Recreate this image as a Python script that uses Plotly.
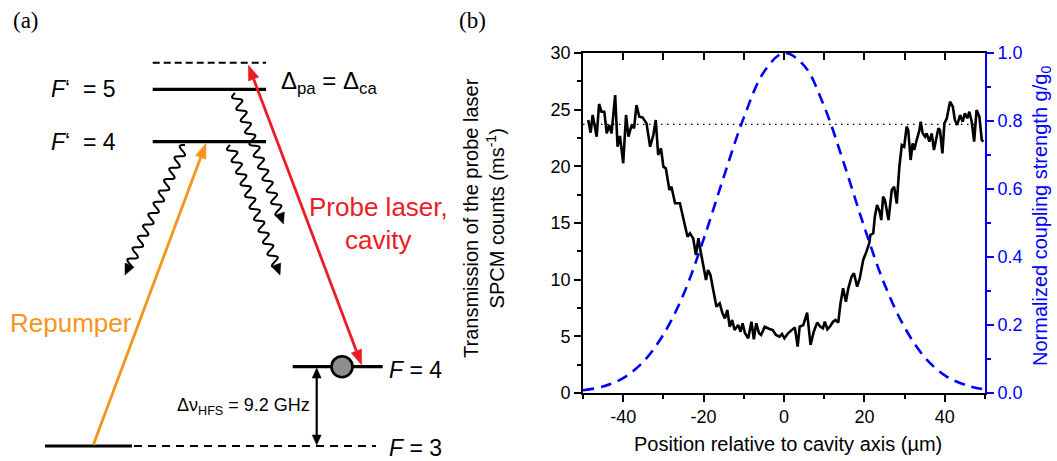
import numpy as np
import plotly.graph_objects as go

# ---------------- Panel (b) data ----------------
pos_um = [-48.7, -48.1, -47.6, -46.6, -46.0, -45.4, -44.7, -44.1, -43.5, -42.9, -42.0, -41.4, -40.8, -40.0,
          -39.3, -38.7, -37.9, -37.3, -36.7, -36.0, -35.2, -34.2, -33.3, -32.5, -31.9, -31.3, -30.6, -30.0,
          -29.4, -28.5, -28.0, -27.1, -25.9, -25.1, -24.0, -23.4, -22.8, -22.6, -21.9, -21.3, -20.8, -20.1,
          -19.4, -18.9, -18.3, -17.6, -16.8, -16.0, -15.3, -14.7, -14.1, -13.5, -12.9, -12.3, -11.4, -10.8,
          -10.3, -9.7, -8.9, -8.1, -7.5, -6.9, -6.2, -5.7, -4.8, -3.6, -2.8, -2.0, -1.1, -0.5, 0.1, 1.0,
          1.85, 2.7, 3.4, 3.9, 4.8, 5.75, 6.6, 7.4, 8.25, 9.05, 9.7, 10.15, 10.8, 11.4, 12.2, 12.8, 13.5,
          14.05, 14.7, 15.4, 16.0, 16.8, 17.4, 18.2, 18.85, 19.7, 20.5, 21.2, 21.5, 22.2, 22.6, 23.15, 23.8,
          24.2, 24.65, 25.1, 26.0, 26.8, 27.4, 28.05, 28.7, 29.3, 29.9, 30.5, 30.9, 31.5, 32.0, 32.4, 33.0,
          33.7, 34.0, 34.5, 35.1, 35.5, 36.15, 36.75, 37.3, 37.8, 38.4, 38.8, 39.4, 39.9, 40.5, 41.3, 42.0,
          42.5, 43.1, 43.8, 44.45, 45.0, 45.6, 46.1, 46.7, 47.3, 47.9, 48.6, 49.2, 49.6]
spcm_counts = [24.09, 22.97, 24.53, 22.62, 25.50, 24.82, 24.82, 22.91, 23.65, 22.91, 26.29, 21.73, 22.68, 20.27,
               24.53, 22.62, 23.65, 23.36, 25.41, 24.38, 24.32, 23.79, 21.73, 22.76, 24.09, 21.00, 21.59, 19.97,
               19.82, 17.91, 18.20, 16.74, 16.74, 15.56, 13.79, 14.09, 13.79, 13.65, 12.18, 13.65, 12.62, 11.15,
               9.97, 10.85, 10.41, 9.09, 7.62, 7.91, 7.03, 6.59, 7.32, 5.85, 6.44, 5.56, 6.00, 5.41,
               6.15, 5.27, 4.82, 6.29, 4.74, 6.15, 5.27, 5.12, 5.85, 5.65, 5.56, 5.12, 4.97, 5.21, 4.82, 5.27,
               5.56, 5.79, 4.09, 5.85, 6.00, 7.09, 4.24, 5.41, 6.21, 5.85, 5.71, 6.29, 5.62, 5.85, 6.29, 6.44, 6.21,
               7.91, 9.24, 8.06, 9.24, 10.26, 10.56, 9.38, 10.12, 11.74, 12.47, 13.21, 13.94, 14.09, 15.56, 16.59, 16.00,
               15.26, 17.32, 17.03, 15.26, 17.91, 18.20, 16.71, 19.97, 21.88, 21.73, 23.50, 23.20, 20.56, 22.03, 21.44, 22.32,
               23.20, 23.94, 22.91, 22.62, 22.91, 22.18, 22.91, 21.44, 22.47, 23.36, 23.20, 21.15, 23.79, 24.24, 25.70, 25.26,
               24.09, 23.65, 24.53, 23.94, 24.68, 24.24, 24.82, 23.94, 22.18, 24.97, 24.38, 22.32, 22.18]
coupling_pos = [-50, -45, -40, -35, -30, -25, -20, -15, -10, -5, 0, 5, 10, 15, 20, 25, 30, 35, 40, 45, 50]
coupling_g = [0.008, 0.019, 0.044, 0.092, 0.172, 0.29, 0.452, 0.635, 0.81, 0.944, 1.0, 0.963, 0.843, 0.672,
              0.487, 0.32, 0.193, 0.105, 0.052, 0.024, 0.010]
baseline_pos = [-50, 50]
baseline_counts = [23.7, 23.7]
x_tickvals = [-40, -20, 0, 20, 40]
x_ticktext = ["-40", "-20", "0", "20", "40"]

W, H = 1057, 461
PL, PR, PT, PB = 583, 985, 53, 393  # plot area in px

BLUE = "#0000ff"
RED = "#ec1c24"
ORANGE = "#f7941d"
SANS = "Liberation Sans, Arial, sans-serif"
SERIF = "Liberation Serif, DejaVu Serif, serif"

fig = go.Figure()
fig.add_trace(go.Scatter(x=baseline_pos, y=baseline_counts, mode="lines",
                         line=dict(color="black", width=1.2, dash="1.5px,4.5px"), hoverinfo="skip"))
fig.add_trace(go.Scatter(x=coupling_pos, y=coupling_g, mode="lines", yaxis="y2",
                         line=dict(color=BLUE, width=2.6, dash="11px,7px", shape="spline")))
fig.add_trace(go.Scatter(x=pos_um, y=spcm_counts, mode="lines",
                         line=dict(color="black", width=2.6)))
fig.add_trace(go.Scatter(x=[None], y=[None], xaxis="x4", yaxis="y", showlegend=False))

xdom = [PL / W, PR / W]
ydom = [1 - PB / H, 1 - PT / H]
tickfont = dict(family=SANS, size=18, color="black")

fig.update_layout(
    width=W, height=H, margin=dict(l=0, r=0, t=0, b=0, pad=0, autoexpand=False), autosize=False,
    paper_bgcolor="white", plot_bgcolor="rgba(0,0,0,0)", showlegend=False,
    xaxis=dict(domain=xdom, range=[-50, 50], anchor="y", tickvals=x_tickvals, ticktext=x_ticktext,
               automargin=False,
               ticks="outside", ticklen=7, tickwidth=1.5, tickcolor="black",
               minor=dict(dtick=10, tick0=0, ticks="outside", ticklen=4, tickwidth=1.5, tickcolor="black"),
               showline=True, linewidth=1.6, linecolor="black", showgrid=False, zeroline=False,
               tickfont=tickfont),
    xaxis4=dict(domain=xdom, range=[-50, 50], anchor="y", overlaying="x", side="top", automargin=False,
                tick0=0, dtick=10, ticks="inside", ticklen=7, tickwidth=1.5, tickcolor="black",
                showticklabels=False, showline=True, linewidth=1.6, linecolor="black",
                showgrid=False, zeroline=False),
    yaxis=dict(domain=ydom, range=[0, 30], anchor="x", tick0=0, dtick=5, automargin=False,
               ticks="outside", ticklen=7, tickwidth=1.5, tickcolor="black",
               minor=dict(dtick=2.5, tick0=0, ticks="outside", ticklen=4, tickwidth=1.5, tickcolor="black"),
               showline=True, linewidth=1.6, linecolor="black", showgrid=False, zeroline=False,
               tickfont=tickfont),
    yaxis2=dict(range=[0, 1], overlaying="y", side="right", anchor="x", tick0=0, dtick=0.2, automargin=False,
                tickformat=".1f", ticks="outside", ticklen=7, tickwidth=1.5, tickcolor=BLUE,
                minor=dict(dtick=0.1, tick0=0, ticks="outside", ticklen=4, tickwidth=1.5, tickcolor=BLUE),
                showline=True, linewidth=1.6, linecolor=BLUE, showgrid=False, zeroline=False,
                tickfont=dict(family=SANS, size=18, color=BLUE)),
    xaxis3=dict(domain=[0, 450 / W], range=[0, 450], anchor="y3", visible=False, fixedrange=True,
                automargin=False),
    yaxis3=dict(domain=[0, 1], range=[H, 0], anchor="x3", visible=False, fixedrange=True,
                automargin=False),
)

annotations = []


def ptxt(x, y, s, size, color="black", angle=0, family=SANS):
    annotations.append(dict(xref="paper", yref="paper", x=x / W, y=1 - y / H, showarrow=False,
                            xanchor="center", yanchor="middle", textangle=angle, text=s,
                            font=dict(family=family, size=size, color=color)))


# Panel (b) axis titles and panel labels
ptxt(788, 444, "Position relative to cavity axis (µm)", 20)
ptxt(484, 218, "Transmission of the probe laser<br>SPCM counts (ms<sup>-1</sup>)", 20, angle=-90)
ptxt(1041, 216, "Normalized coupling strength g/g<sub>0</sub>", 20, color=BLUE, angle=-90)
ptxt(472, 20, "(b)", 23, family=SERIF)
ptxt(26, 20, "(a)", 23, family=SERIF)

# ---------------- Panel (a): level diagram (pixel-like coordinates on x3/y3) ----------------
shapes = []


def line(x0, y0, x1, y1, color="black", width=3, dash="solid"):
    shapes.append(dict(type="line", xref="x3", yref="y3", x0=x0, y0=y0, x1=x1, y1=y1,
                       line=dict(color=color, width=width, dash=dash)))


def head(tip, frm, length, width, color):
    tx, ty = tip
    dx, dy = tx - frm[0], ty - frm[1]
    d = np.hypot(dx, dy)
    ux, uy = dx / d, dy / d
    nx, ny = -uy, ux
    bx, by = tx - ux * length, ty - uy * length
    p = (f"M {tx:.2f} {ty:.2f} L {bx + nx * width / 2:.2f} {by + ny * width / 2:.2f} "
         f"L {bx - nx * width / 2:.2f} {by - ny * width / 2:.2f} Z")
    shapes.append(dict(type="path", xref="x3", yref="y3", path=p, fillcolor=color,
                       line=dict(color=color, width=0.5)))
    return bx, by


def arrow(p0, p1, color, width, hl, hw, both=False):
    b1 = head(p1, p0, hl, hw, color)
    b0 = head(p0, p1, hl, hw, color) if both else p0
    line(b0[0], b0[1], b1[0], b1[1], color=color, width=width)


def wavy(p0, p1, period=12.5, amp=4.3, hl=11, hw=10):
    x0, y0 = p0
    x1, y1 = p1
    d = np.hypot(x1 - x0, y1 - y0)
    ux, uy = (x1 - x0) / d, (y1 - y0) / d
    nx, ny = -uy, ux
    t = np.linspace(0, d - hl + 1, 300)
    off = amp * np.sin(2 * np.pi * t / period)
    xs = x0 + ux * t + nx * off
    ys = y0 + uy * t + ny * off
    path = "M " + " L ".join(f"{a:.2f} {b:.2f}" for a, b in zip(xs, ys))
    shapes.append(dict(type="path", xref="x3", yref="y3", path=path,
                       line=dict(color="black", width=2)))
    head(p1, (x1 - ux, y1 - uy), hl, hw, "black")


# levels
line(152.7, 62.7, 266, 62.7, width=2, dash="7px,4px")
line(152.7, 89.3, 266, 89.3, width=3.2)
line(152.7, 141.7, 266, 141.7, width=3.2)
line(292.7, 366.7, 382.7, 366.7, width=3.2)
line(45, 446, 132, 446, width=3.2)
line(134, 446, 376, 446, width=2, dash="8px,6px")

# decay (wavy) arrows
wavy((235, 93), (283.5, 224))
wavy((230, 145), (280, 275))
wavy((185, 145), (125, 275))

# lasers
arrow((93.3, 445), (206, 143.3), ORANGE, 2.8, 15, 11)
arrow((248.3, 65), (361.7, 365), RED, 2.8, 15, 11, both=True)

# hyperfine splitting arrow
arrow((316.7, 368), (316.7, 445), "black", 2.2, 10, 9, both=True)

# atom
shapes.append(dict(type="circle", xref="x3", yref="y3", x0=331.5, x1=352.5, y0=356.2, y1=377.2,
                   fillcolor="#8e8e8e", line=dict(color="black", width=2.6)))


def txt(x, y, s, size, color="black", xanchor="left", family=SANS):
    annotations.append(dict(xref="x3", yref="y3", x=x, y=y, text=s, showarrow=False,
                            xanchor=xanchor, yanchor="middle",
                            font=dict(family=family, size=size, color=color)))


txt(49, 89, "<i>F</i>‘ &nbsp;= 5", 23)
txt(49, 142, "<i>F</i>‘ &nbsp;= 4", 23)
txt(279, 82, "Δ<sub>pa</sub> = Δ<sub>ca</sub>", 24)
txt(307, 207, "Probe laser,", 26, RED)
txt(378, 240, "cavity", 26, RED, xanchor="center")
txt(8, 323, "Repumper", 26, ORANGE)
txt(312, 406, "Δν<sub>HFS</sub> = 9.2 GHz", 18, xanchor="right")
txt(387, 370, "<i>F</i> = 4", 23)
txt(387, 448, "<i>F</i> = 3", 23)

fig.update_layout(shapes=shapes, annotations=annotations)
fig.write_html("out.html", config={"displayModeBar": False},
               post_script="document.body.style.margin='0';document.body.style.overflow='hidden';")
